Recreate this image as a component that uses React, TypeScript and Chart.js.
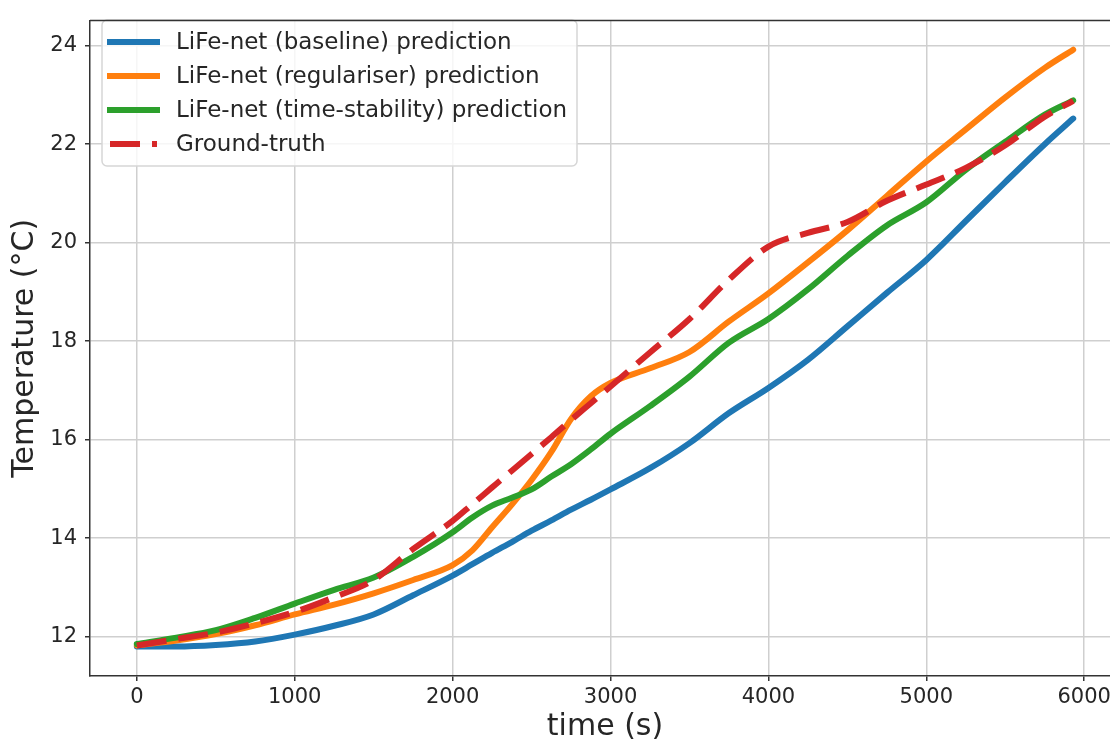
import React, { useEffect, useRef } from "react";
import { Chart, registerables } from "chart.js";

Chart.register(...registerables);

// ---- data ----
const timeS = [
  0, 250, 500, 750, 1000, 1250, 1500, 1750, 2000, 2125, 2250, 2375, 2500, 2625,
  2750, 2875, 3000, 3250, 3500, 3750, 4000, 4250, 4500, 4750, 5000, 5250, 5500,
  5750, 5930,
];
const baselineTemp = [
  11.8, 11.8, 11.83, 11.9, 12.04, 12.22, 12.45, 12.84, 13.24, 13.47, 13.7, 13.92,
  14.15, 14.36, 14.58, 14.78, 14.99, 15.42, 15.93, 16.54, 17.05, 17.62, 18.3,
  18.98, 19.65, 20.44, 21.23, 22.0, 22.52,
];
const regulariserTemp = [
  11.82, 11.92, 12.05, 12.23, 12.45, 12.65, 12.88, 13.15, 13.45, 13.75, 14.22,
  14.68, 15.18, 15.75, 16.42, 16.88, 17.15, 17.45, 17.78, 18.4, 18.97, 19.6,
  20.25, 20.95, 21.65, 22.3, 22.95, 23.55, 23.92,
];
const timeStabilityTemp = [
  11.85, 11.98, 12.13, 12.38, 12.67, 12.95, 13.2, 13.62, 14.12, 14.42, 14.66,
  14.82, 14.99, 15.25, 15.5, 15.8, 16.12, 16.68, 17.28, 17.97, 18.45, 19.05,
  19.73, 20.35, 20.82, 21.48, 22.05, 22.6, 22.89,
];
const groundTruthTemp = [
  11.82, 11.95, 12.08, 12.27, 12.5, 12.8, 13.15, 13.78, 14.35, 14.69, 15.03,
  15.37, 15.71, 16.05, 16.4, 16.74, 17.08, 17.77, 18.45, 19.25, 19.92, 20.2,
  20.42, 20.85, 21.18, 21.52, 21.98, 22.56, 22.88,
];
const seriesLabels = [
  "LiFe-net (baseline) prediction",
  "LiFe-net (regulariser) prediction",
  "LiFe-net (time-stability) prediction",
  "Ground-truth",
];
const seriesColors = ["#1f77b4", "#ff7f0e", "#2ca02c", "#d62728"];
const xTickValues = [0, 1000, 2000, 3000, 4000, 5000, 6000];
const yTickValues = [12, 14, 16, 18, 20, 22, 24];
const xLabel = "time (s)";
const yLabel = "Temperature (°C)";

const FONT = "'DejaVu Sans', sans-serif";
const W = 1122;
const H = 743;
const LINE_W = 6;
const DASH = [30, 12];

export default function App() {
  const ref = useRef<HTMLCanvasElement | null>(null);

  useEffect(() => {
    if (!ref.current) return;
    const toPts = (ys: number[]) => timeS.map((t, i) => ({ x: t, y: ys[i] }));
    const allSeries = [baselineTemp, regulariserTemp, timeStabilityTemp, groundTruthTemp];

    const framePlugin = {
      id: "frame",
      afterDraw(chart: any) {
        const { ctx, chartArea } = chart;
        ctx.save();
        ctx.strokeStyle = "#333";
        ctx.lineWidth = 1.5;
        ctx.beginPath();
        ctx.moveTo(chartArea.left, chartArea.top);
        ctx.lineTo(chartArea.right, chartArea.top);
        ctx.stroke();
        ctx.restore();
      },
    };

    const legendPlugin = {
      id: "mplLegend",
      afterDatasetsDraw(chart: any) {
        const { ctx } = chart;
        const bx = 102, by = 20, bw = 475, bh = 146, r = 5;
        ctx.save();
        ctx.beginPath();
        ctx.roundRect(bx, by, bw, bh, r);
        ctx.fillStyle = "rgba(255,255,255,0.8)";
        ctx.fill();
        ctx.strokeStyle = "#d6d6d6";
        ctx.lineWidth = 1.5;
        ctx.stroke();
        const rowY = [42, 76, 110, 144];
        seriesLabels.forEach((lab, i) => {
          const y = rowY[i];
          ctx.beginPath();
          ctx.strokeStyle = seriesColors[i];
          ctx.lineWidth = LINE_W;
          if (i === 3) {
            ctx.setLineDash(DASH);
            ctx.lineCap = "butt";
          } else {
            ctx.setLineDash([]);
            ctx.lineCap = "square";
          }
          ctx.moveTo(110, y);
          ctx.lineTo(157, y);
          ctx.stroke();
          ctx.setLineDash([]);
          ctx.fillStyle = "#262626";
          ctx.font = `23px ${FONT}`;
          ctx.textBaseline = "middle";
          ctx.textAlign = "left";
          ctx.fillText(lab, 176, y + 1);
        });
        ctx.restore();
      },
    };

    const chart = new Chart(ref.current, {
      type: "line",
      data: {
        datasets: allSeries.map((ys, i) => ({
          label: seriesLabels[i],
          data: toPts(ys),
          borderColor: seriesColors[i],
          backgroundColor: seriesColors[i],
          borderWidth: LINE_W,
          borderDash: i === 3 ? DASH : [],
          borderCapStyle: i === 3 ? "butt" : "round",
          borderJoinStyle: "round",
          pointRadius: 0,
          fill: false,
          cubicInterpolationMode: "monotone",
          order: 3 - i,
        })),
      },
      options: {
        animation: false,
        responsive: false,
        maintainAspectRatio: false,
        devicePixelRatio: 1,
        layout: { padding: { top: 12, right: 2, left: 0, bottom: 0 } },
        plugins: { legend: { display: false }, tooltip: { enabled: false } },
        scales: {
          x: {
            type: "linear",
            min: -296.5,
            max: 6226.5,
            afterBuildTicks: (s: any) => {
              s.ticks = xTickValues.map((v) => ({ value: v }));
            },
            afterFit: (s: any) => {
              s.height = 67;
            },
            ticks: {
              color: "#262626",
              font: { family: FONT, size: 21 },
              padding: 4,
              maxRotation: 0,
              autoSkip: false,
              callback: (v: any) => String(v),
            },
            grid: {
              color: "#cfcfcf",
              lineWidth: 1.5,
              tickColor: "#333",
              tickLength: 5,
              tickWidth: 1.5,
            },
            border: { color: "#333", width: 1.5 },
            title: {
              display: true,
              text: xLabel,
              color: "#262626",
              font: { family: FONT, size: 30, lineHeight: 1 },
              padding: { top: 0, bottom: 1 },
            },
          },
          y: {
            type: "linear",
            min: 11.2,
            max: 24.51,
            afterBuildTicks: (s: any) => {
              s.ticks = yTickValues.map((v) => ({ value: v }));
            },
            afterFit: (s: any) => {
              s.width = 90;
            },
            ticks: {
              color: "#262626",
              font: { family: FONT, size: 21 },
              padding: 8,
              autoSkip: false,
              callback: (v: any) => String(v),
            },
            grid: {
              color: "#cfcfcf",
              lineWidth: 1.5,
              tickColor: "#333",
              tickLength: 5,
              tickWidth: 1.5,
            },
            border: { color: "#333", width: 1.5 },
            title: {
              display: true,
              text: yLabel,
              color: "#262626",
              font: { family: FONT, size: 30, lineHeight: 1 },
              padding: { top: 10, bottom: 0 },
            },
          },
        },
      },
      plugins: [framePlugin, legendPlugin],
    } as any);

    return () => chart.destroy();
  }, []);

  return (
    <div
      style={{
        position: "absolute",
        left: 0,
        top: 0,
        width: 1110,
        height: 743,
        overflow: "hidden",
        background: "#fff",
      }}
    >
      <canvas
        ref={ref}
        width={W}
        height={H}
        style={{ width: W, height: H, display: "block" }}
      />
    </div>
  );
}
